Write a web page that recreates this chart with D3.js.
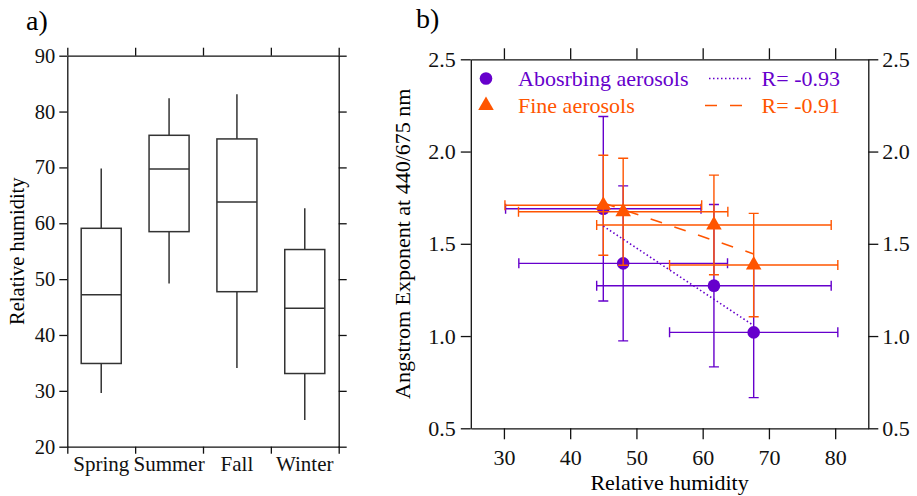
<!DOCTYPE html>
<html>
<head>
<meta charset="utf-8">
<script src="https://cdn.jsdelivr.net/npm/d3@7/dist/d3.min.js"></script>
<style>
  body { margin: 0; background: #fff; }
  svg { display: block; }
  svg text { font-family: "Liberation Serif", "DejaVu Serif", "Times New Roman", Times, serif; }
</style>
</head>
<body>
<div id="chart"></div>
<script>
/* global d3 */

/* ---- panel a: seasonal relative humidity (box plot) ---- */
var seasons = ["Spring", "Summer", "Fall", "Winter"];
var rhLow = [29.6, 49.2, 34.1, 24.8];
var rhQ1 = [34.9, 58.5, 47.75, 33.1];
var rhMedian = [47.2, 69.7, 63.8, 44.8];
var rhQ3 = [59.1, 75.75, 75.1, 55.3];
var rhHigh = [69.8, 82.4, 83.1, 62.7];
var rhTicks = [20, 30, 40, 50, 60, 70, 80, 90];

/* ---- panel b: angstrom exponent vs relative humidity ---- */
var absRh = [45.0, 48.0, 61.7, 67.7];
var absRhErr = [14.75, 15.75, 17.7, 12.7];
var absAe = [1.69, 1.394, 1.273, 1.02];
var absAeErr = [0.50, 0.42, 0.44, 0.354];

var fineRh = [45.0, 48.0, 61.7, 67.7];
var fineRhErr = [14.85, 15.8, 17.7, 12.7];
var fineAe = [1.709, 1.674, 1.602, 1.385];
var fineAeErr = [0.271, 0.29, 0.27, 0.28];

var xTicksB = [30, 40, 50, 60, 70, 80];
var yTicksB = [0.5, 1.0, 1.5, 2.0, 2.5];
var legendNames = ["Abosrbing aerosols", "Fine aerosols"];
var legendR = ["R= -0.93", "R= -0.91"];

var PURPLE = "#6600cc";
var ORANGE = "#ff5500";

var svg = d3.select("#chart").append("svg")
  .attr("width", 917)
  .attr("height", 496)
  .attr("viewBox", "0 0 917 496");

/* styles an axis group after d3 has drawn it */
function styleAxis(g, size) {
  g.attr("font-family", null).attr("font-size", size);
  g.selectAll("path, line").attr("stroke", "#111").attr("stroke-width", 1.3);
  g.selectAll("text").attr("fill", "#111");
}

/**
 * Box plot of relative humidity per season
 */
function drawPanelA() {
  var left = 67.3, right = 338.7, top = 55.7, bottom = 446.7;

  var band = d3.scaleBand().domain(seasons).range([left, right])
    .paddingInner(0.41).paddingOuter(0.205);
  /* boundaries between seasons, used for the ticks */
  var bound = d3.scaleLinear().domain([0, seasons.length]).range([left, right]);
  var y = d3.scaleLinear().domain([20, 90]).range([bottom, top]);

  var g = svg.append("g");

  g.append("g").attr("transform", "translate(" + left + ",0)")
    .call(d3.axisLeft(y).tickValues(rhTicks).tickSize(8).tickSizeOuter(0).tickPadding(4))
    .call(styleAxis, 20.5);
  g.append("g").attr("transform", "translate(" + right + ",0)")
    .call(d3.axisRight(y).tickValues(rhTicks).tickSize(8).tickSizeOuter(0).tickFormat(""))
    .call(styleAxis, 20.5);
  g.append("g").attr("transform", "translate(0," + top + ")")
    .call(d3.axisTop(bound).tickValues([0, 1, 2, 3, 4]).tickSize(8).tickSizeOuter(0).tickFormat(""))
    .call(styleAxis, 20.5);
  g.append("g").attr("transform", "translate(0," + bottom + ")")
    .call(d3.axisBottom(bound).tickValues([0, 1, 2, 3, 4]).tickSize(7).tickSizeOuter(0).tickFormat(""))
    .call(styleAxis, 20.5);

  /* season names centred in each band */
  var cat = g.append("g").attr("transform", "translate(0," + bottom + ")")
    .call(d3.axisBottom(band).tickSize(0).tickPadding(9))
    .call(styleAxis, 21);
  cat.select(".domain").remove();

  var boxes = g.selectAll(".box")
    .data(seasons)
    .enter().append("g")
    .attr("class", "box")
    .attr("stroke", "#333")
    .attr("stroke-width", 1.5)
    .attr("fill", "none");

  boxes.append("line")
    .attr("x1", function(d) { return band(d) + band.bandwidth() / 2; })
    .attr("x2", function(d) { return band(d) + band.bandwidth() / 2; })
    .attr("y1", function(d, i) { return y(rhLow[i]); })
    .attr("y2", function(d, i) { return y(rhQ1[i]); });

  boxes.append("line")
    .attr("x1", function(d) { return band(d) + band.bandwidth() / 2; })
    .attr("x2", function(d) { return band(d) + band.bandwidth() / 2; })
    .attr("y1", function(d, i) { return y(rhQ3[i]); })
    .attr("y2", function(d, i) { return y(rhHigh[i]); });

  boxes.append("rect")
    .attr("x", function(d) { return band(d); })
    .attr("width", band.bandwidth())
    .attr("y", function(d, i) { return y(rhQ3[i]); })
    .attr("height", function(d, i) { return y(rhQ1[i]) - y(rhQ3[i]); });

  boxes.append("line")
    .attr("x1", function(d) { return band(d); })
    .attr("x2", function(d) { return band(d) + band.bandwidth(); })
    .attr("y1", function(d, i) { return y(rhMedian[i]); })
    .attr("y2", function(d, i) { return y(rhMedian[i]); });

  g.append("text")
    .attr("transform", "translate(17," + (top + bottom) / 2 + ") rotate(-90)")
    .attr("text-anchor", "middle")
    .attr("dy", "0.35em")
    .style("font-size", "20.5px")
    .text("Relative humidity");

  g.append("text")
    .attr("x", 26).attr("y", 30)
    .style("font-size", "28px")
    .text("a)");
}

/* least squares line through a series, returns two end points */
function fitLine(xs, ys) {
  var mx = d3.mean(xs), my = d3.mean(ys);
  var sxy = d3.sum(xs, function(v, i) { return (v - mx) * (ys[i] - my); });
  var sxx = d3.sum(xs, function(v) { return (v - mx) * (v - mx); });
  var slope = sxy / sxx;
  var x0 = d3.min(xs), x1 = d3.max(xs);
  return [[x0, my + slope * (x0 - mx)], [x1, my + slope * (x1 - mx)]];
}

/**
 * Scatter of angstrom exponent against relative humidity with error bars
 */
function drawPanelB() {
  var left = 470.8, right = 868.3, top = 59.3, bottom = 428.3;

  var x = d3.scaleLinear().domain([25, 85]).range([left, right]);
  var y = d3.scaleLinear().domain([0.5, 2.5]).range([bottom, top]);
  var fmt = d3.format(".1f");

  var g = svg.append("g");

  g.append("g").attr("transform", "translate(" + left + ",0)")
    .call(d3.axisLeft(y).tickValues(yTicksB).tickFormat(fmt).tickSize(10).tickSizeOuter(0).tickPadding(5))
    .call(styleAxis, 22);
  g.append("g").attr("transform", "translate(" + right + ",0)")
    .call(d3.axisRight(y).tickValues(yTicksB).tickFormat(fmt).tickSize(10).tickSizeOuter(0).tickPadding(4))
    .call(styleAxis, 22);
  g.append("g").attr("transform", "translate(0," + top + ")")
    .call(d3.axisTop(x).tickValues(xTicksB).tickFormat("").tickSize(11).tickSizeOuter(0))
    .call(styleAxis, 22);
  g.append("g").attr("transform", "translate(0," + bottom + ")")
    .call(d3.axisBottom(x).tickValues(xTicksB).tickSize(11).tickSizeOuter(0).tickPadding(10))
    .call(styleAxis, 22);

  var series = [
    { color: PURPLE, rh: absRh, rhErr: absRhErr, ae: absAe, aeErr: absAeErr, marker: d3.symbolCircle, size: 125, dash: "1.5,2.5" },
    { color: ORANGE, rh: fineRh, rhErr: fineRhErr, ae: fineAe, aeErr: fineAeErr, marker: d3.symbolTriangle, size: 105, dash: "12,13" }
  ];
  var cap = 5;

  series.forEach(function(s) {
    var pts = s.rh.map(function(v, i) {
      return { rh: v, rhErr: s.rhErr[i], ae: s.ae[i], aeErr: s.aeErr[i] };
    });
    var bars = g.append("g")
      .attr("stroke", s.color)
      .attr("stroke-width", 1.4)
      .attr("fill", "none");

    pts.forEach(function(p) {
      var cx = x(p.rh), cy = y(p.ae);
      var x0 = x(p.rh - p.rhErr), x1 = x(p.rh + p.rhErr);
      var y0 = y(p.ae - p.aeErr), y1 = y(p.ae + p.aeErr);
      bars.append("path").attr("d",
        "M" + x0 + "," + cy + "H" + x1 +
        "M" + x0 + "," + (cy - cap) + "V" + (cy + cap) +
        "M" + x1 + "," + (cy - cap) + "V" + (cy + cap) +
        "M" + cx + "," + y0 + "V" + y1 +
        "M" + (cx - cap) + "," + y0 + "H" + (cx + cap) +
        "M" + (cx - cap) + "," + y1 + "H" + (cx + cap));
    });

    g.append("g").selectAll("path")
      .data(pts)
      .enter().append("path")
      .attr("transform", function(p) { return "translate(" + x(p.rh) + "," + y(p.ae) + ")"; })
      .attr("d", d3.symbol().type(s.marker).size(s.size))
      .attr("fill", s.color);
  });

  /* regression lines */
  series.forEach(function(s) {
    var ends = fitLine(s.rh, s.ae);
    g.append("path")
      .attr("d", d3.line().x(function(d) { return x(d[0]); }).y(function(d) { return y(d[1]); })(ends))
      .attr("stroke", s.color)
      .attr("stroke-width", 1.6)
      .attr("stroke-dasharray", s.dash)
      .attr("fill", "none");
  });

  /* legend */
  var legend = g.append("g").style("font-size", "22px");
  series.forEach(function(s, i) {
    var ly = 78.5 + i * 27;
    legend.append("path")
      .attr("transform", "translate(486," + ly + ")")
      .attr("d", d3.symbol().type(s.marker).size(s.size))
      .attr("fill", s.color);
    legend.append("text")
      .attr("x", 518).attr("y", ly).attr("dy", "0.32em")
      .attr("fill", s.color)
      .text(legendNames[i]);
    legend.append("line")
      .attr("x1", i === 0 ? 709 : 705).attr("x2", i === 0 ? 751 : 745)
      .attr("y1", ly).attr("y2", ly)
      .attr("stroke", s.color)
      .attr("stroke-width", 1.6)
      .attr("stroke-dasharray", s.dash);
    legend.append("text")
      .attr("x", 840).attr("y", ly).attr("dy", "0.32em")
      .attr("text-anchor", "end")
      .attr("fill", s.color)
      .text(legendR[i]);
  });

  g.append("text")
    .attr("x", (left + right) / 2).attr("y", 490)
    .attr("text-anchor", "middle")
    .style("font-size", "22px")
    .text("Relative humidity");

  g.append("text")
    .attr("transform", "translate(402," + (top + bottom) / 2 + ") rotate(-90)")
    .attr("text-anchor", "middle")
    .attr("dy", "0.35em")
    .style("font-size", "22px")
    .text("Angstrom Exponent at 440/675 nm");

  g.append("text")
    .attr("x", 416).attr("y", 28)
    .style("font-size", "28px")
    .text("b)");
}

drawPanelA();
drawPanelB();
</script>
</body>
</html>
